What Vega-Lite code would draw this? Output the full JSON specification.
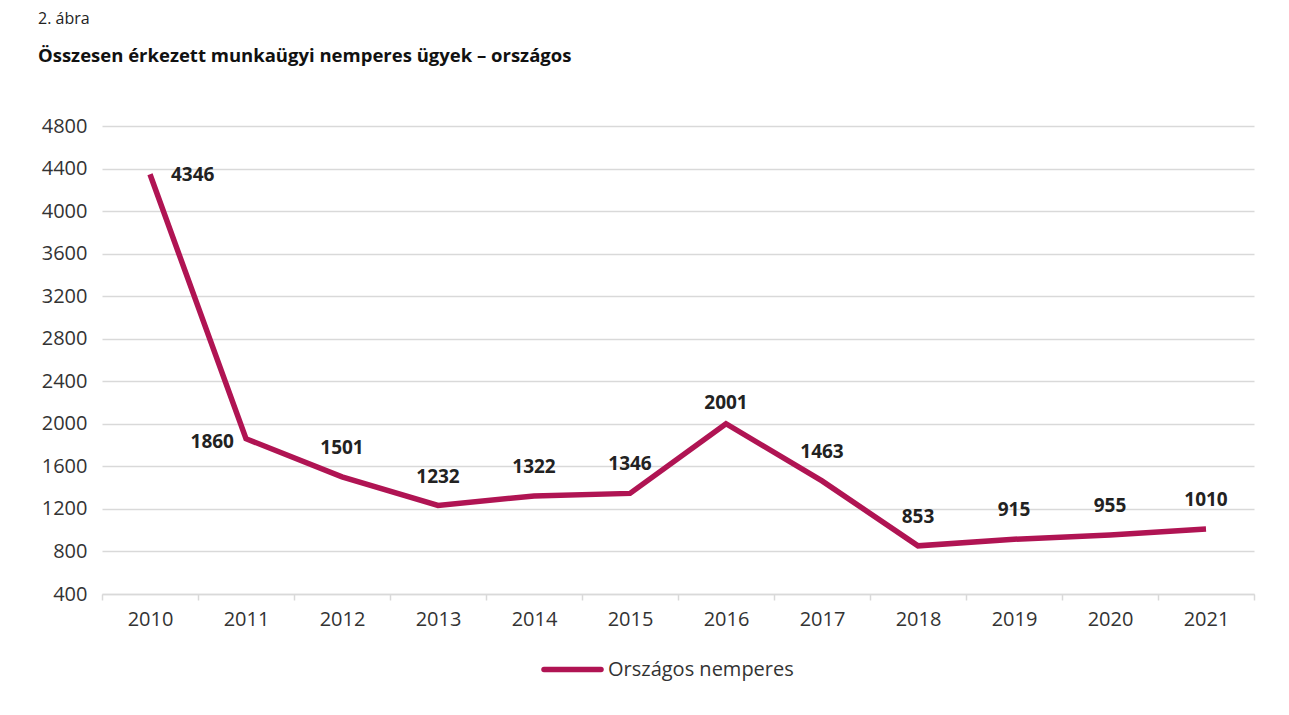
{
  "$schema": "https://vega.github.io/schema/vega-lite/v6.json",
  "autosize": {"type": "none"},
  "width": 1152,
  "height": 468,
  "padding": {"left": 102, "top": 126, "right": 35, "bottom": 121},
  "background": "white",
  "title": {
    "text": "2. ábra",
    "subtitle": "Összesen érkezett munkaügyi nemperes ügyek – országos",
    "anchor": "start",
    "frame": "group",
    "dx": -64,
    "offset": 51,
    "font": "Open Sans",
    "fontSize": 16,
    "fontWeight": "normal",
    "color": "#222",
    "subtitleFont": "Open Sans",
    "subtitleFontSize": 18.5,
    "subtitleFontWeight": "bold",
    "subtitleColor": "#111",
    "subtitlePadding": 20
  },
  "config": {
    "view": {"stroke": null},
    "font": "Open Sans",
    "axis": {"labelFont": "Open Sans", "labelFontSize": 20, "labelColor": "#333", "title": null}
  },
  "data": {
    "values": [
      {"year": "2010", "value": 4346, "series": "Országos nemperes"},
      {"year": "2011", "value": 1860, "series": "Országos nemperes"},
      {"year": "2012", "value": 1501, "series": "Országos nemperes"},
      {"year": "2013", "value": 1232, "series": "Országos nemperes"},
      {"year": "2014", "value": 1322, "series": "Országos nemperes"},
      {"year": "2015", "value": 1346, "series": "Országos nemperes"},
      {"year": "2016", "value": 2001, "series": "Országos nemperes"},
      {"year": "2017", "value": 1463, "series": "Országos nemperes"},
      {"year": "2018", "value": 853, "series": "Országos nemperes"},
      {"year": "2019", "value": 915, "series": "Országos nemperes"},
      {"year": "2020", "value": 955, "series": "Országos nemperes"},
      {"year": "2021", "value": 1010, "series": "Országos nemperes"}
    ]
  },
  "encoding": {
    "x": {
      "field": "year", "type": "ordinal",
      "scale": {"paddingInner": 0, "paddingOuter": 0},
      "axis": {
        "labelAngle": 0, "labelPadding": 9, "domainColor": "#d9d9d9", "domainWidth": 1.5,
        "tickColor": "#d9d9d9", "tickWidth": 1.5, "tickSize": 6, "tickBand": "extent", "grid": false
      }
    },
    "y": {
      "field": "value", "type": "quantitative",
      "scale": {"domain": [400, 4800], "nice": false, "zero": false},
      "axis": {
        "values": [400, 800, 1200, 1600, 2000, 2400, 2800, 3200, 3600, 4000, 4400, 4800],
        "format": "d",
        "domain": false, "ticks": false, "labelPadding": 15,
        "gridColor": "#d9d9d9", "gridWidth": 1.5
      }
    }
  },
  "layer": [
    {
      "mark": {"type": "line", "strokeWidth": 5.5, "strokeJoin": "miter", "strokeCap": "butt"},
      "encoding": {
        "color": {
          "field": "series", "type": "nominal",
          "scale": {"range": ["#b01453"]},
          "legend": {
            "title": null, "orient": "none", "legendX": 439, "legendY": 512,
            "padding": 0, "symbolType": "stroke", "symbolSize": 3249, "symbolStrokeWidth": 5.5,
            "labelFont": "Open Sans", "labelFontSize": 20, "labelColor": "#333", "labelOffset": 4, "labelLimit": 400,
            "encode": {"symbols": {"update": {"strokeCap": {"value": "round"}}}}
          }
        }
      }
    },
    {
      "transform": [{"filter": "datum.year != '2010' && datum.year != '2011' && datum.year != '2016'"}],
      "mark": {"type": "text", "font": "Open Sans", "fontSize": 19, "fontWeight": "bold", "color": "#222", "baseline": "middle", "dy": -29},
      "encoding": {"text": {"field": "value", "type": "quantitative", "format": "d"}}
    },
    {
      "transform": [{"filter": "datum.year == '2016'"}],
      "mark": {"type": "text", "font": "Open Sans", "fontSize": 19, "fontWeight": "bold", "color": "#222", "baseline": "middle", "dy": -21},
      "encoding": {"text": {"field": "value", "type": "quantitative", "format": "d"}}
    },
    {
      "transform": [{"filter": "datum.year == '2010'"}],
      "mark": {"type": "text", "font": "Open Sans", "fontSize": 19, "fontWeight": "bold", "color": "#222", "baseline": "middle", "align": "left", "dx": 21, "dy": 1},
      "encoding": {"text": {"field": "value", "type": "quantitative", "format": "d"}}
    },
    {
      "transform": [{"filter": "datum.year == '2011'"}],
      "mark": {"type": "text", "font": "Open Sans", "fontSize": 19, "fontWeight": "bold", "color": "#222", "baseline": "middle", "align": "right", "dx": -12, "dy": 3},
      "encoding": {"text": {"field": "value", "type": "quantitative", "format": "d"}}
    }
  ]
}
